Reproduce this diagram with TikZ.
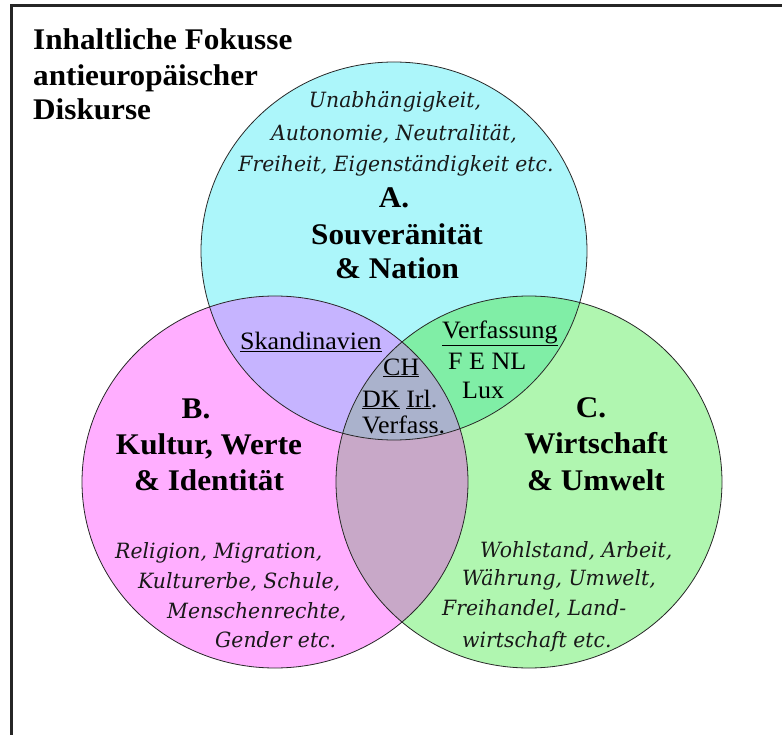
\documentclass[tikz,border=0pt]{standalone}
\usepackage{fontspec}
\setmainfont{Liberation Serif}[FakeStretch=1.04]
\newfontfamily\itfont{DejaVu Serif}[FakeStretch=0.97]
\definecolor{colA}{RGB}{172,246,250}
\definecolor{colB}{RGB}{255,174,255}
\definecolor{colC}{RGB}{176,246,176}
\definecolor{colAB}{RGB}{198,180,255}
\definecolor{colAC}{RGB}{128,238,166}
\definecolor{colBC}{RGB}{200,168,200}
\definecolor{colABC}{RGB}{170,178,204}
\definecolor{edge}{RGB}{40,40,40}
\def\cA{(394,251) ellipse [x radius=193pt, y radius=189pt]}
\def\cB{(275,482) ellipse [x radius=193pt, y radius=186pt]}
\def\cC{(529,482) ellipse [x radius=193pt, y radius=186pt]}
\tikzset{
  big/.style={font=\fontsize{30}{35}\selectfont\bfseries, inner sep=0pt},
  itl/.style={font=\fontsize{21}{24}\selectfont\itfont\itshape, inner sep=0pt, text=black!90},
  small/.style={font=\fontsize{25}{28}\selectfont, inner sep=0pt},
}
\begin{document}
\begin{tikzpicture}[x=1pt,y=-1pt]
\useasboundingbox (0,0) rectangle (782,735);
\clip (0,0) rectangle (782,735);
\fill[white] (0,0) rectangle (782,735);
\draw[line width=3pt, black!85] (11,5.5) rectangle (800,760);
% circles
\fill[colA] \cA;
\fill[colB] \cB;
\fill[colC] \cC;
\begin{scope}\clip \cA; \fill[colAB] \cB; \end{scope}
\begin{scope}\clip \cA; \fill[colAC] \cC; \end{scope}
\begin{scope}\clip \cB; \fill[colBC] \cC; \end{scope}
\begin{scope}\clip \cA; \clip \cB; \fill[colABC] \cC; \end{scope}
\draw[edge, line width=0.8pt] \cA;
\draw[edge, line width=0.8pt] \cB;
\draw[edge, line width=0.8pt] \cC;
% title
\node[big, anchor=base west] (t1) at (33,50) {Inhaltliche Fokusse};
\node[big, anchor=base west] (t2) at (33,86) {antieurop\"aischer};
\node[big, anchor=base west] (t3) at (33,120) {Diskurse};
% A
\node[itl, anchor=base] (a1) at (395,108) {Unabh\"angigkeit,};
\node[itl, anchor=base] (a2) at (394,141) {Autonomie, Neutralit\"at,};
\node[itl, anchor=base] (a3) at (396,172) {Freiheit, Eigenst\"andigkeit etc.};
\node[big, anchor=base] (a4) at (394,208) {A.};
\node[big, anchor=base] (a5) at (397,245) {Souver\"anit\"at};
\node[big, anchor=base] (a6) at (397,279) {\& Nation};
% B
\node[big, anchor=base] (b1) at (196,418) {B.};
\node[big, anchor=base] (b2) at (209,454) {Kultur, Werte};
\node[big, anchor=base] (b3) at (209,490) {\& Identit\"at};
\node[itl, anchor=base west] (b4) at (115,558) {Religion, Migration,};
\node[itl, anchor=base west] (b5) at (138,588) {Kulturerbe, Schule,};
\node[itl, anchor=base west] (b6) at (167,618) {Menschenrechte,};
\node[itl, anchor=base west] (b7) at (215,647) {Gender etc.};
% C
\node[big, anchor=base] (c1) at (591,417) {C.};
\node[big, anchor=base] (c2) at (596,453) {Wirtschaft};
\node[big, anchor=base] (c3) at (596,490) {\& Umwelt};
\node[itl, anchor=base west] (c4) at (480,557) {Wohlstand, Arbeit,};
\node[itl, anchor=base west] (c5) at (462,585) {W\"ahrung, Umwelt,};
\node[itl, anchor=base west] (c6) at (442,615) {Freihandel, Land-};
\node[itl, anchor=base west] (c7) at (462,647) {wirtschaft etc.};
% overlaps
\node[small, anchor=base west] (ab) at (240,350) {\underline{Skandinavien}};
\node[small, anchor=base west] (ac1) at (442,338) {\underline{Verfassung}};
\node[small, anchor=base west] (ac2) at (448,370) {F E NL};
\node[small, anchor=base west] (ac3) at (462,398) {Lux};
\node[small, anchor=base west] (abc1) at (383,375) {\underline{CH}};
\node[small, anchor=base west] (abc2) at (362,407) {\underline{DK} \underline{Irl}.};
\node[small, anchor=base west] (abc3) at (362,433) {Verfass.};
\end{tikzpicture}
\end{document}
